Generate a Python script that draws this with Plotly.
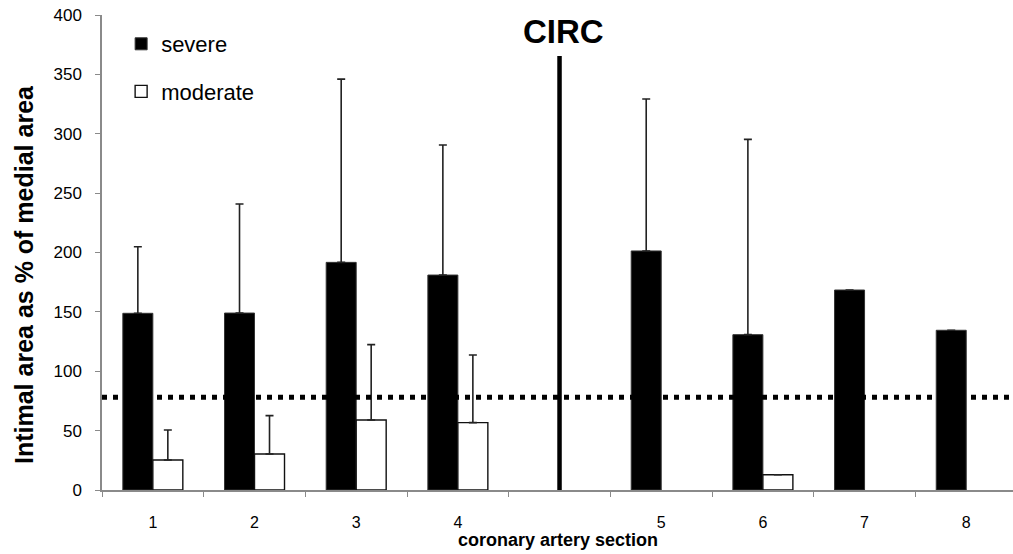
import plotly.graph_objects as go

# ---- data ----
categories = ["1", "2", "3", "4", " ", "5", "6", "7", "8"]
severe = [148.8, 149.0, 191.7, 181.0, None, 201.3, 130.8, 168.4, 134.5]
severe_err = [56.1, 91.8, 154.3, 109.5, None, 128.0, 164.5, None, None]
moderate = [25.3, 30.3, 59.0, 56.7, None, None, 12.9, None, None]
moderate_err = [25.2, 32.3, 63.4, 57.0, None, None, None, None, None]
threshold = 78.1
circ_label = "CIRC"
circ_line_top = 365.5
circ_label_y = 386
gap_category = " "
x_title = "coronary artery section"
y_title = "Intimal area as % of medial area"

FONT = "Liberation Sans, Arial, sans-serif"
AXIS_GRAY = "#8a8a8a"

fig = go.Figure()
fig.add_trace(go.Bar(
    name="severe", x=categories, y=severe,
    marker=dict(color="black", line=dict(color="#333333", width=1)),
    error_y=dict(type="data", symmetric=False, array=severe_err,
                 arrayminus=[0 if v is not None else None for v in severe_err],
                 color="#222222", thickness=1.6, width=4),
    legendgroup="a",
))
fig.add_trace(go.Bar(
    name="moderate", x=categories, y=moderate,
    marker=dict(color="white", line=dict(color="#111111", width=1.4)),
    error_y=dict(type="data", symmetric=False, array=moderate_err,
                 arrayminus=[0 if v is not None else None for v in moderate_err],
                 color="#222222", thickness=1.6, width=4),
    legendgroup="b",
))

gap_idx = categories.index(gap_category)

fig.add_shape(type="line", xref="paper", yref="y", x0=0, x1=1,
              y0=threshold, y1=threshold,
              line=dict(color="black", width=5, dash="5px,6px"))
fig.add_shape(type="line", xref="x", yref="y", x0=gap_idx, x1=gap_idx,
              y0=0, y1=circ_line_top,
              line=dict(color="black", width=4.5))
fig.add_annotation(x=gap_idx, y=circ_label_y, xref="x", yref="y",
                   text="<b>" + circ_label + "</b>", showarrow=False,
                   font=dict(size=33, color="black", family=FONT),
                   xanchor="center", yanchor="middle", xshift=4)
fig.add_annotation(x=0.5, y=-50 / 475, xref="paper", yref="paper",
                   text="<b>" + x_title + "</b>", showarrow=False,
                   font=dict(size=18, color="black", family=FONT),
                   xanchor="center", yanchor="middle")
fig.add_annotation(x=-78 / 911, y=215 / 475, xref="paper", yref="paper",
                   text="<b>" + y_title + "</b>", showarrow=False,
                   textangle=-90,
                   font=dict(size=25, color="black", family=FONT),
                   xanchor="center", yanchor="middle")

fig.update_layout(
    width=1013, height=554,
    margin=dict(l=102, r=0, t=15, b=64, autoexpand=False),
    paper_bgcolor="white", plot_bgcolor="white",
    font=dict(family=FONT, color="black"),
    barmode="group", bargap=0.41, bargroupgap=0,
    showlegend=True,
    legend=dict(x=0.021, y=1 - 8 / 475, xanchor="left", yanchor="top",
                font=dict(size=22, family=FONT, color="black"),
                bgcolor="rgba(0,0,0,0)", tracegroupgap=16,
                traceorder="grouped"),
    xaxis=dict(
        type="category", categoryorder="array", categoryarray=categories,
        range=[-0.5, 8.46], showline=True, linecolor=AXIS_GRAY, linewidth=1.5,
        ticks="outside", tickson="boundaries", ticklen=5, tickcolor=AXIS_GRAY,
        tickwidth=1.2, ticklabelstandoff=17,
        tickfont=dict(size=16, family=FONT, color="black"),
        showgrid=False, zeroline=False, automargin=False,
    ),
    yaxis=dict(
        range=[0, 400], dtick=50, showline=True, linecolor=AXIS_GRAY,
        linewidth=1.5, ticks="outside", ticklen=5, tickcolor=AXIS_GRAY,
        tickwidth=1.2, ticklabelstandoff=10, ticklabeloverflow="allow",
        tickfont=dict(size=17, family=FONT, color="black"),
        showgrid=False, zeroline=False, automargin=False,
    ),
)

fig.write_html("out.html", config={"displayModeBar": False},
               post_script="document.body.style.margin='0';")
